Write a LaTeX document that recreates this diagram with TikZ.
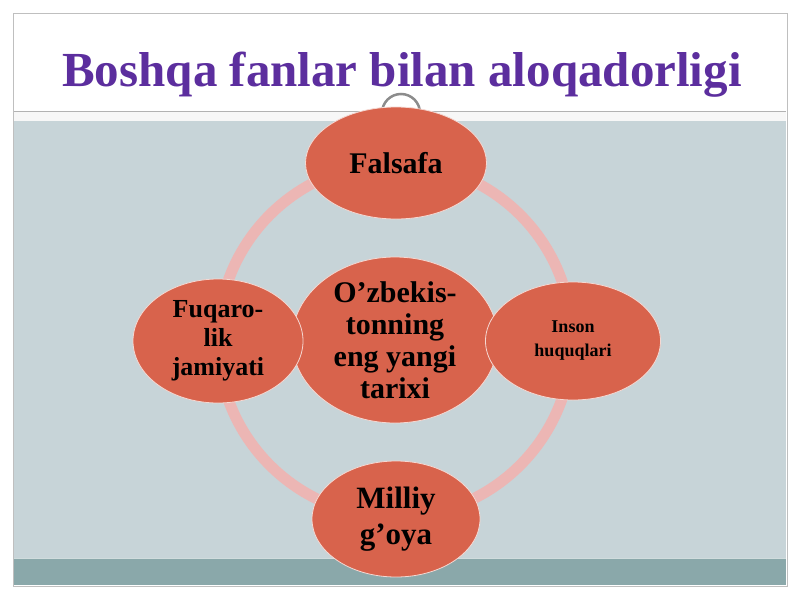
\documentclass[tikz,border=0pt]{standalone}
\usepackage{fontspec}
\setmainfont{Liberation Serif}
\usepackage{tikz}
\usetikzlibrary{shapes}
\usetikzlibrary{positioning}
\usetikzlibrary{backgrounds}

\definecolor{slidebg}{RGB}{199,212,216}
\definecolor{slideband}{RGB}{138,168,170}
\definecolor{titlecol}{RGB}{92,46,158}
\definecolor{bubblecol}{RGB}{216,99,76}
\definecolor{ringcol}{RGB}{236,182,180}

\begin{document}
\begin{tikzpicture}[
                x = 1pt, y = -1pt,
                bubble/.style = {ellipse, draw = white!75!bubblecol,
                  line width = 0.8pt, fill = bubblecol, inner sep = 0pt,
                  align = center, text = black},
                big/.style = {font = \fontsize{30}{32}\selectfont\bfseries},
                mid/.style = {font = \fontsize{26}{29}\selectfont\bfseries},
                small/.style = {font = \fontsize{18}{24}\selectfont\bfseries}
                ]
                \useasboundingbox (0,0) rectangle (800,600);

                % Slide
                \fill[white] (0,0) rectangle (800,600);
                \draw[black!25, fill = white] (13,13) rectangle (787,586);
                \fill[slidebg] (14,121) rectangle (786,558);
                \fill[black!3] (14,112) rectangle (786,121);
                \draw[black!30, line width = 1pt] (14,111) -- (786,111);
                \fill[slideband] (14,558) rectangle (786,585);
                \draw[white!60!slideband, line width = 1pt] (14,558) -- (786,558);

                % Title
                \node[text = titlecol, font = \fontsize{49}{56}\selectfont\bfseries]
                  (title) at (402,75) {Boshqa fanlar bilan aloqadorligi};

                % Ring and handle
                \coordinate (hub) at (395,340);
                \draw[ringcol, line width = 11pt] (hub) circle (177);
                \draw[black!45, line width = 2.5pt] (401,113) circle (19);

                % Bubbles
                \node[bubble, big, minimum width = 181, minimum height = 112]
                  (falsafa) at (396,163) {Falsafa};
                \node[bubble, big, minimum width = 206, minimum height = 166]
                  (tarix) at (hub) {O’zbekis-\\tonning\\eng yangi\\tarixi};
                \node[bubble, mid, minimum width = 170, minimum height = 124]
                  (jamiyat) at (218,341) {Fuqaro-\\lik\\jamiyati};
                \node[bubble, small, minimum width = 175, minimum height = 118]
                  (huquq) at (573,341) {Inson\\huquqlari};
                \node[bubble, font = \fontsize{31}{36}\selectfont\bfseries,
                      minimum width = 168, minimum height = 116]
                  (goya) at (396,519) {Milliy\\g’oya};
            \end{tikzpicture}
\end{document}
